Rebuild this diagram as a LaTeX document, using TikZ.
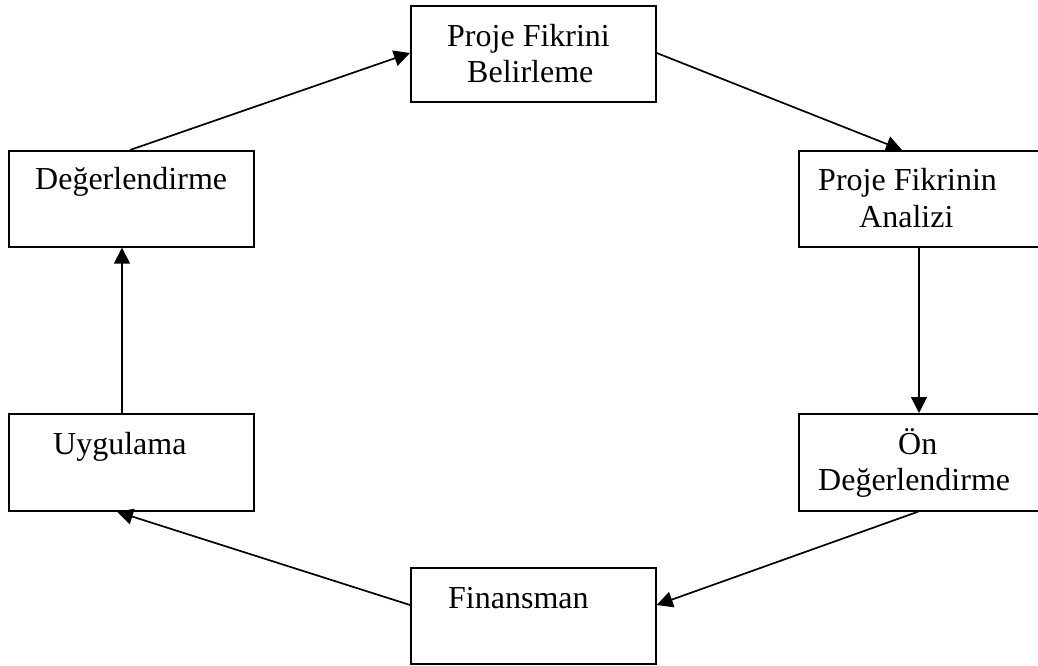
\documentclass[tikz,border=0pt]{standalone}
\usepackage{fontspec}
\setmainfont{Liberation Serif}
\usetikzlibrary{arrows.meta}
\begin{document}
\begin{tikzpicture}[x=1pt,y=-1pt,
  box/.style={draw, line width=1.7pt, inner sep=0pt, minimum width=245pt, anchor=north west},
  lbl/.style={inner sep=0pt, anchor=base west, font=\fontsize{32}{38}\selectfont},
  arr/.style={line width=1.7pt, -{Triangle[length=16pt,width=16pt]}}]
\useasboundingbox (0,0) rectangle (1038,666);
\node[box, minimum height=96pt] (b1) at (410,5) {};
\node[box, minimum height=96pt] (b2) at (798,150) {};
\node[box, minimum height=97pt] (b3) at (798,413) {};
\node[box, minimum height=96pt] (b4) at (410,567) {};
\node[box, minimum height=97pt] (b5) at (8,413) {};
\node[box, minimum height=96pt] (b6) at (8,150) {};
\node[lbl] (t1a) at (447,47) {Proje Fikrini};
\node[lbl] (t1b) at (467,83) {Belirleme};
\node[lbl] (t2a) at (818,190) {Proje Fikrinin};
\node[lbl] (t2b) at (859,227) {Analizi};
\node[lbl] (t3a) at (898,454) {Ön};
\node[lbl] (t3b) at (818,490) {Değerlendirme};
\node[lbl] (t4) at (448,608) {Finansman};
\node[lbl] (t5) at (53,454) {Uygulama};
\node[lbl] (t6) at (35,189) {Değerlendirme};
\draw[arr] ([xshift=122pt]b6.north west) -- ([yshift=-48pt]b1.north west);
\draw[arr] ([yshift=-48pt]b1.north east) -- ([xshift=104pt]b2.north west);
\draw[arr] ([xshift=121pt]b2.south west) -- ([xshift=121pt]b3.north west);
\draw[arr] ([xshift=120pt]b3.south west) -- ([yshift=-38pt]b4.north east);
\draw[arr] ([yshift=-38pt]b4.north west) -- ([xshift=109pt]b5.south west);
\draw[arr] ([xshift=114pt]b5.north west) -- ([xshift=114pt]b6.south west);
\end{tikzpicture}
\end{document}
